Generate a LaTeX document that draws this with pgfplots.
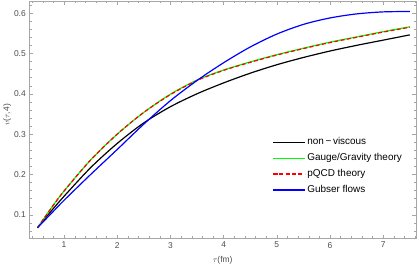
\documentclass[border=0pt]{standalone}
\usepackage{pgfplots}
\pgfplotsset{compat=1.18}
\usepackage{fontspec}
\setmainfont{Liberation Sans}
\begin{document}
\begin{tikzpicture}
\begin{axis}[
  scale only axis,
  width=389pt, height=239pt,
  xmin=0.346, xmax=7.617,
  ymin=0.041, ymax=0.63,
  xtick={1,2,3,4,5,6,7},
  ytick={0.1,0.2,0.3,0.4,0.5,0.6},
  minor xtick={0.4,0.6,0.8,1.2,1.4,1.6,1.8,2.2,2.4,2.6,2.8,3.2,3.4,3.6,3.8,4.2,4.4,4.6,4.8,5.2,5.4,5.6,5.8,6.2,6.4,6.6,6.8,7.2,7.4,7.6},
  minor ytick={0.06,0.08,0.12,0.14,0.16,0.18,0.22,0.24,0.26,0.28,0.32,0.34,0.36,0.38,0.42,0.44,0.46,0.48,0.52,0.54,0.56,0.58,0.62},
  yticklabel style={/pgf/number format/fixed,/pgf/number format/precision=1,/pgf/number format/fixed zerofill},
  tick align=inside,
  major tick length=4pt,
  minor tick length=2.5pt,
  axis line style={black!35},
  every tick/.style={black!35},
  tick label style={font=\fontsize{8.5}{10}\selectfont, text=black!70},
  /pgf/number format/assume math mode=true,
  xlabel={\(\tau\)(fm)},
  ylabel={\(v\)(\(\tau\),4)},
  every axis x label/.style={at={(axis description cs:0.5,-0.092)},anchor=center,font=\fontsize{8.5}{10}\selectfont, text=black!70},
  every axis y label/.style={at={(axis description cs:-0.057,0.52)},rotate=90,anchor=center,font=\fontsize{8.5}{10}\selectfont, text=black!70},
  legend style={at={(rel axis cs:0.628,0.44)}, anchor=north west, draw=none, fill=none,
    font=\fontsize{10}{12}\selectfont, inner sep=0pt, row sep=0pt,
    nodes={text height=7.5pt, text depth=2.5pt, inner ysep=3pt, inner xsep=2pt}},
  legend cell align=left,
  legend image code/.code={\draw[#1] plot coordinates {(0pt,0pt) (16pt,0pt) (32pt,0pt)};},
]
\addplot[black, line width=1.2pt, smooth] coordinates {
(0.5,0.068) (0.75,0.108) (1.0,0.146) (1.5,0.217) (2.0,0.277) (2.5,0.328) (3.0,0.368) (3.5,0.400) (4.0,0.427) (4.5,0.451) (5.0,0.472) (5.5,0.490) (6.0,0.506) (6.5,0.520) (7.0,0.533) (7.5,0.546)};
\addlegendentry{non\,−\,viscous}
\addplot[green, line width=1.2pt, smooth] coordinates {
(0.5,0.068) (0.75,0.115) (1.0,0.159) (1.5,0.236) (2.0,0.300) (2.5,0.354) (3.0,0.399) (3.5,0.434) (4.0,0.459) (4.5,0.479) (5.0,0.497) (5.5,0.513) (6.0,0.528) (6.5,0.541) (7.0,0.554) (7.5,0.566)};
\addlegendentry{Gauge/Gravity theory}
\addplot[red, line width=1.2pt, dash pattern=on 4pt off 2.4pt, smooth] coordinates {
(0.5,0.068) (0.75,0.115) (1.0,0.159) (1.5,0.236) (2.0,0.300) (2.5,0.354) (3.0,0.398) (3.5,0.433) (4.0,0.458) (4.5,0.478) (5.0,0.496) (5.5,0.512) (6.0,0.527) (6.5,0.540) (7.0,0.553) (7.5,0.565)};
\addlegendentry{pQCD theory}
\addplot[blue, line width=1.2pt, smooth] coordinates {
(0.5,0.068) (0.75,0.102) (1.0,0.136) (1.5,0.200) (2.0,0.262) (2.5,0.325) (3.0,0.383) (3.5,0.433) (4.0,0.477) (4.5,0.516) (5.0,0.548) (5.5,0.572) (6.0,0.588) (6.5,0.598) (7.0,0.603) (7.5,0.604)};
\addlegendentry{Gubser flows}
\end{axis}
\path ([shift={(-27pt,-27pt)}]current axis.south west) rectangle ([shift={(3pt,1pt)}]current axis.north east);
\end{tikzpicture}
\end{document}
